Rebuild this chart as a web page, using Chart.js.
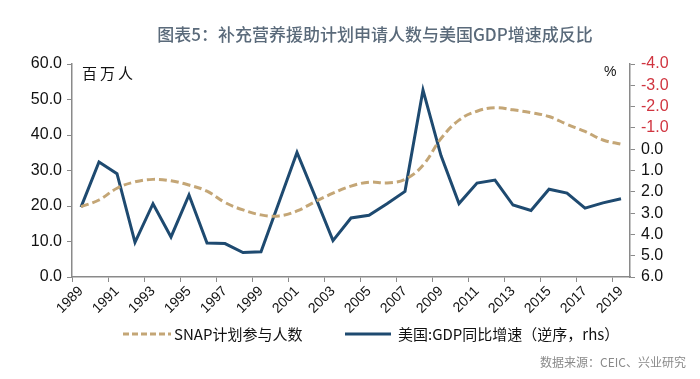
<!DOCTYPE html>
<html>
<head>
<meta charset="utf-8">
<script src="https://cdn.jsdelivr.net/npm/chart.js@4.4.1/dist/chart.umd.min.js"></script>
<style>
  html, body { margin:0; padding:0; background:#fff; }
  #wrap { position:relative; width:700px; height:379px; overflow:hidden; font-family:"Noto Sans CJK SC","Noto Sans",sans-serif; }
  canvas { position:absolute; left:0; top:0; }
  .t { position:absolute; white-space:nowrap; }
  #title { left:0; width:750px; top:21px; text-align:center; font-size:17px; color:#5a6a7a; font-weight:500; }
  #unitL { left:82px; top:62px; font-size:15px; color:#111; letter-spacing:3px; }
  #unitR { left:604px; top:63px; font-size:14px; color:#111; font-family:"Liberation Sans",sans-serif; }
  .leg { top:323px; font-size:15px; color:#111; }
  #src { right:14px; top:353px; font-size:12px; color:#8a8a8a; }
  svg { position:absolute; }
</style>
</head>
<body>
<div id="wrap">
  <canvas id="c" width="700" height="379"></canvas>
  <div class="t" id="title">图表5：补充营养援助计划申请人数与美国GDP增速成反比</div>
  <div class="t" id="unitL">百万人</div>
  <div class="t" id="unitR">%</div>
  <svg style="left:123px;top:330px" width="48" height="8"><line x1="0" y1="4" x2="48" y2="4" stroke="#c4a676" stroke-width="3" stroke-dasharray="6,3"/></svg>
  <div class="t leg" style="left:174px">SNAP计划参与人数</div>
  <svg style="left:345px;top:330px" width="46" height="8"><line x1="0" y1="4" x2="46" y2="4" stroke="#1e4a70" stroke-width="3"/></svg>
  <div class="t leg" style="left:398px">美国:GDP同比增速（逆序，rhs）</div>
  <div class="t" id="src">数据来源：CEIC、兴业研究</div>
</div>
<script>
const years = ["1989","1990","1991","1992","1993","1994","1995","1996","1997","1998","1999","2000","2001","2002","2003","2004","2005","2006","2007","2008","2009","2010","2011","2012","2013","2014","2015","2016","2017","2018","2019"];
const snapParticipants = [19.8,21.7,25.0,26.8,27.5,27.1,25.9,24.2,21.0,18.9,17.5,17.2,18.6,21.2,23.6,25.6,26.7,26.5,27.5,31.5,39.0,44.2,46.7,47.7,47.1,46.3,45.2,43.0,41.0,38.6,37.4];
const usGdpYoY = [2.72,0.6,1.15,4.37,2.56,4.12,2.15,4.40,4.43,4.85,4.82,2.49,0.15,2.2,4.29,3.23,3.1,2.56,1.98,-2.78,0.3,2.55,1.59,1.45,2.62,2.88,1.88,2.06,2.77,2.52,2.33];
const leftTicks = { min:0, max:60, step:10 };
const rightTicks = { min:-4, max:6, step:1 };

const axisGrey = '#8a8a8a';
const numFont = { family:'"Liberation Sans", Arial, sans-serif', size:16 };

new Chart(document.getElementById('c'), {
  type:'line',
  data:{
    labels: years,
    datasets:[
      { label:'SNAP计划参与人数', data:snapParticipants, yAxisID:'y', borderColor:'#c4a676', borderWidth:3, borderDash:[8,4], tension:0.4, pointRadius:0, fill:false },
      { label:'美国:GDP同比增速（逆序，rhs）', data:usGdpYoY, yAxisID:'y1', borderColor:'#1e4a70', borderWidth:3, tension:0, pointRadius:0, fill:false, borderJoinStyle:'miter' }
    ]
  },
  options:{
    responsive:false, animation:false, events:[],
    layout:{ padding:{ left:0, right:0, top:64, bottom:0 } },
    plugins:{ legend:{display:false}, tooltip:{enabled:false}, title:{display:false} },
    scales:{
      x:{
        type:'category', offset:true,
        grid:{ offset:true, drawOnChartArea:false, drawTicks:true, tickLength:5, color:(c)=> (c.index%2===0 ? axisGrey : 'rgba(0,0,0,0)') },
        border:{ color:axisGrey, width:1.5 },
        ticks:{ autoSkip:false, minRotation:45, maxRotation:45, padding:1, color:'#111', font:{ family:'"Liberation Sans", Arial, sans-serif', size:14 },
          callback:(v,i)=> (i%2===0 ? years[i] : '') },
        afterFit:(s)=>{ s.height = 102; }
      },
      y:{
        position:'left', min:leftTicks.min, max:leftTicks.max,
        grid:{ drawOnChartArea:false, drawTicks:true, tickLength:5, color:axisGrey },
        border:{ color:axisGrey, width:1.5 },
        ticks:{ autoSkip:false, stepSize:leftTicks.step, padding:5, color:'#111', font:numFont, callback:(v)=> Number(v).toFixed(1) },
        afterFit:(s)=>{ s.width = 72; }
      },
      y1:{
        position:'right', reverse:true, min:rightTicks.min, max:rightTicks.max,
        grid:{ drawOnChartArea:false, drawTicks:true, tickLength:5, color:axisGrey },
        border:{ color:axisGrey, width:1.5 },
        ticks:{ autoSkip:false, stepSize:rightTicks.step, padding:6, font:numFont, color:(c)=> (c.tick && c.tick.value < 0 ? '#d0343f' : '#111'), callback:(v)=> Number(v).toFixed(1) },
        afterFit:(s)=>{ s.width = 70; }
      }
    }
  }
});
</script>
</body>
</html>
